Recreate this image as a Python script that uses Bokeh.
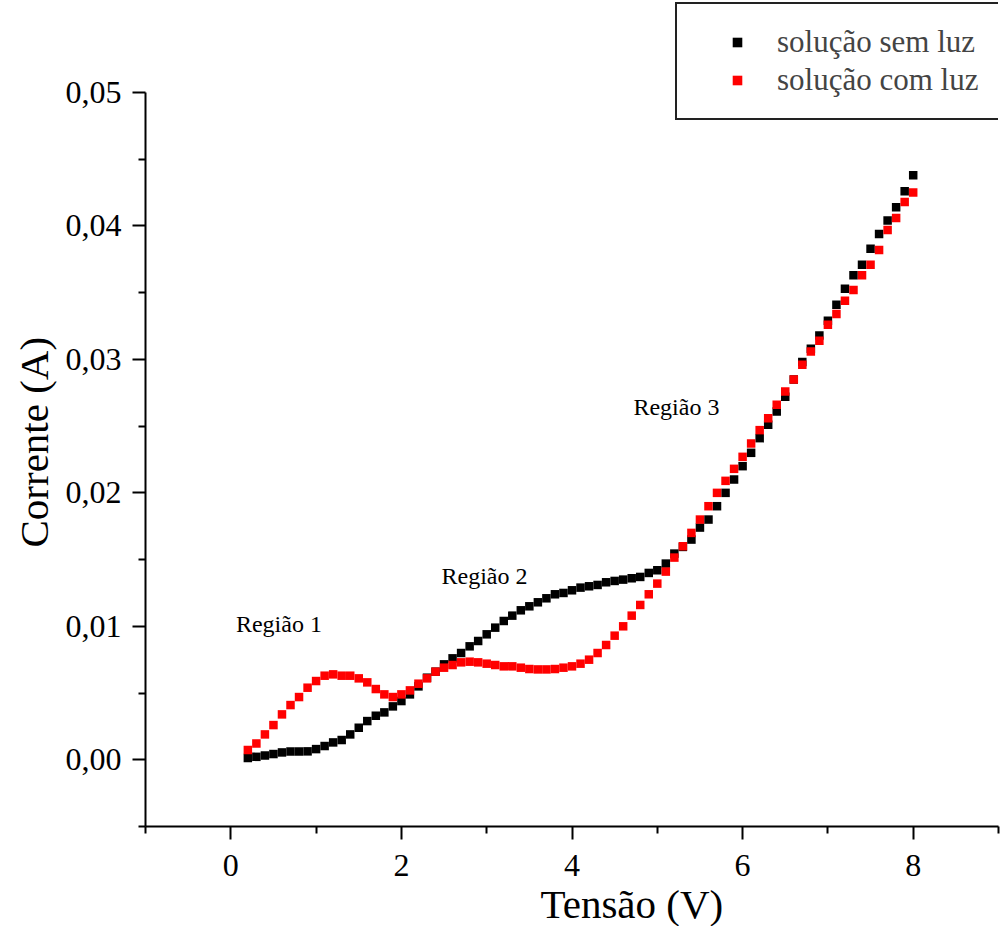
from bokeh.plotting import figure
from bokeh.models import (FixedTicker, CustomJSTickFormatter, Legend, LegendItem, Range1d, Title)
from bokeh.core.properties import value
from bokeh.embed import file_html
from bokeh.resources import INLINE

tensao = [0.2, 0.3, 0.4, 0.5, 0.6, 0.7, 0.8, 0.9, 1.0, 1.1, 1.2, 1.3, 1.4, 1.5, 1.6, 1.7,
          1.8, 1.9, 2.0, 2.1, 2.2, 2.3, 2.4, 2.5, 2.6, 2.7, 2.8, 2.9, 3.0, 3.1, 3.2, 3.3,
          3.4, 3.5, 3.6, 3.7, 3.8, 3.9, 4.0, 4.1, 4.2, 4.3, 4.4, 4.5, 4.6, 4.7, 4.8, 4.9,
          5.0, 5.1, 5.2, 5.3, 5.4, 5.5, 5.6, 5.7, 5.8, 5.9, 6.0, 6.1, 6.2, 6.3, 6.4, 6.5,
          6.6, 6.7, 6.8, 6.9, 7.0, 7.1, 7.2, 7.3, 7.4, 7.5, 7.6, 7.7, 7.8, 7.9, 8.0]

sem_luz = [0.00013, 0.00022, 0.00032, 0.00043, 0.00055, 0.00062, 0.00062, 0.00063,
           0.00080, 0.00103, 0.00130, 0.00148, 0.00190, 0.00240, 0.00290, 0.00330,
           0.00355, 0.00400, 0.00440, 0.00490, 0.00550, 0.00615, 0.00660, 0.00715,
           0.00760, 0.00800, 0.00850, 0.00890, 0.00940, 0.00990, 0.01040, 0.01080,
           0.01120, 0.01150, 0.01180, 0.01210, 0.01240, 0.01250, 0.01270, 0.01290,
           0.01300, 0.01310, 0.01330, 0.01340, 0.01350, 0.01360, 0.01370, 0.01400,
           0.01420, 0.01470, 0.01545, 0.01595, 0.01650, 0.01740, 0.01800, 0.01900,
           0.02000, 0.02100, 0.02200, 0.02300, 0.02410, 0.02510, 0.02610, 0.02720,
           0.02850, 0.02980, 0.03080, 0.03180, 0.03290, 0.03410, 0.03530, 0.03630,
           0.03710, 0.03830, 0.03940, 0.04040, 0.04140, 0.04260, 0.04380]

com_luz = [0.00073, 0.00122, 0.00190, 0.00260, 0.00340, 0.00410, 0.00470, 0.00540,
           0.00590, 0.00630, 0.00640, 0.00630, 0.00630, 0.00610, 0.00580, 0.00530,
           0.00490, 0.00470, 0.00490, 0.00520, 0.00570, 0.00610, 0.00660, 0.00690,
           0.00710, 0.00730, 0.00735, 0.00730, 0.00720, 0.00710, 0.00700, 0.00700,
           0.00690, 0.00680, 0.00677, 0.00677, 0.00680, 0.00690, 0.00700, 0.00720,
           0.00750, 0.00800, 0.00860, 0.00930, 0.01000, 0.01080, 0.01160, 0.01240,
           0.01320, 0.01410, 0.01515, 0.01600, 0.01700, 0.01800, 0.01900, 0.02000,
           0.02090, 0.02180, 0.02270, 0.02370, 0.02470, 0.02560, 0.02660, 0.02760,
           0.02850, 0.02960, 0.03060, 0.03140, 0.03260, 0.03340, 0.03440, 0.03520,
           0.03630, 0.03710, 0.03820, 0.03970, 0.04060, 0.04180, 0.04250]

serie_nomes = ["solução sem luz", "solução com luz"]
serie_cores = ["#000000", "#ff0000"]

regioes = ["Região 1", "Região 2", "Região 3"]
regioes_x = [0.06, 2.47, 4.72]
regioes_y = [0.0102, 0.0138, 0.0264]

x_ticks = [0, 2, 4, 6, 8]
x_minor = [-1, 1, 3, 5, 7, 9]
y_ticks = [0.0, 0.01, 0.02, 0.03, 0.04, 0.05]
y_minor = [-0.005, 0.005, 0.015, 0.025, 0.035, 0.045]

x_titulo = "Tensão (V)"
y_titulo = "Corrente (A)"

FONT = "Liberation Serif"

# frame spans from the top of the canvas; the y axis itself is bounded to [-0.005, 0.05]
Y_MIN, Y_AXIS_MAX = -0.005, 0.05
FRAME_H = 826
AXIS_H = 734
y_top = Y_MIN + (Y_AXIS_MAX - Y_MIN) * FRAME_H / AXIS_H

p = figure(frame_width=853, frame_height=FRAME_H,
           min_border_left=145, min_border_top=0, min_border_right=2, min_border_bottom=100,
           x_range=Range1d(-1, 9), y_range=Range1d(Y_MIN, y_top),
           output_backend="svg", toolbar_location=None, tools="")
p.outline_line_color = None
p.xgrid.visible = False
p.ygrid.visible = False
p.background_fill_color = "white"
p.border_fill_color = "white"

r1 = p.scatter(tensao, sem_luz, marker="square", size=8.5, color=serie_cores[0], line_width=0)
r2 = p.scatter(tensao, com_luz, marker="square", size=8.5, color=serie_cores[1], line_width=0)

p.text(x=regioes_x, y=regioes_y, text=regioes, text_font=value(FONT),
       text_font_size="24px", text_align="left", text_baseline="alphabetic",
       text_color="black")

for ax in (p.xaxis[0], p.yaxis[0]):
    ax.axis_line_width = 2
    ax.major_tick_line_width = 2
    ax.minor_tick_line_width = 2
    ax.major_tick_out = 13
    ax.major_tick_in = 0
    ax.minor_tick_out = 7
    ax.minor_tick_in = 0
    ax.major_label_text_font = FONT
    ax.major_label_text_font_size = "32px"
    ax.major_label_standoff = 11
    ax.major_label_text_color = "black"

p.xaxis.major_label_standoff = 15
p.yaxis.bounds = (Y_MIN, Y_AXIS_MAX)
p.xaxis.ticker = FixedTicker(ticks=x_ticks, minor_ticks=x_minor)
p.yaxis.ticker = FixedTicker(ticks=y_ticks, minor_ticks=y_minor)
p.yaxis.formatter = CustomJSTickFormatter(code="return tick.toFixed(2).replace('.', ',');")

tx = Title(text=x_titulo, align="left", offset=395, text_font=FONT,
           text_font_size="41px", text_font_style="normal", text_color="black", standoff=0)
ty = Title(text=y_titulo, align="left", offset=279, text_font=FONT,
           text_font_size="41px", text_font_style="normal", text_color="black", standoff=12)
p.add_layout(tx, "below")
p.add_layout(ty, "left")

legend = Legend(items=[LegendItem(label=serie_nomes[0], renderers=[r1]),
                       LegendItem(label=serie_nomes[1], renderers=[r2])],
                location=(530, 706), orientation="vertical",
                label_text_font=FONT, label_text_font_size="31px",
                glyph_width=80, glyph_height=24, label_standoff=0,
                padding=20, spacing=2, margin=0, label_height=32,
                border_line_color="#222222", border_line_width=2, border_line_alpha=1.0,
                background_fill_alpha=1.0)
p.add_layout(legend, "center")

open("out.html", "w").write(file_html(p, INLINE))
